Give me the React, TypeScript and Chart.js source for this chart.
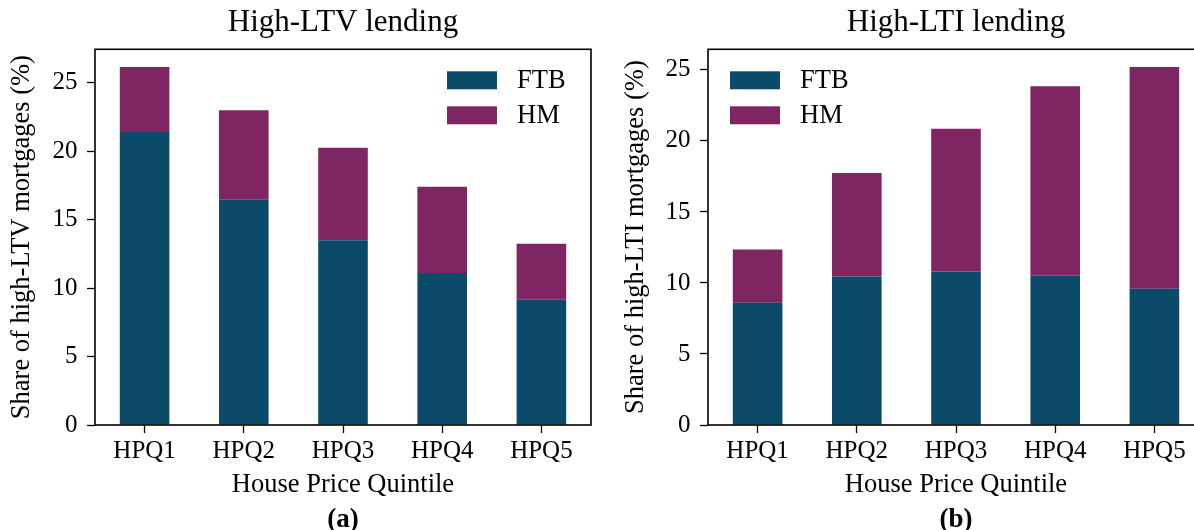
import React, { useEffect, useRef } from 'react';
import { Chart, registerables } from 'chart.js';

Chart.register(...registerables);

// ---- data ----
const categories = ['HPQ1', 'HPQ2', 'HPQ3', 'HPQ4', 'HPQ5'];
const seriesLabels = ['FTB', 'HM'];
const ltvFTB = [21.4, 16.45, 13.5, 11.1, 9.15];
const ltvHM = [4.75, 6.55, 6.75, 6.3, 4.1];
const ltiFTB = [8.6, 10.45, 10.8, 10.5, 9.6];
const ltiHM = [3.75, 7.3, 10.05, 13.35, 15.6];
const yTickValues = [0, 5, 10, 15, 20, 25];
const ltvYMax = 27.45;
const ltiYMax = 26.45;

const COLORS = ['#0B4A68', '#7F2562'];
const FONT = '"Liberation Serif", "Times New Roman", serif';

const frameLegendPlugin = {
  id: 'frameLegend',
  afterDraw(chart: any, _args: any, opts: any) {
    const { ctx, chartArea } = chart;
    const { left, right, top, bottom } = chartArea;
    ctx.save();
    // frame
    ctx.strokeStyle = '#000';
    ctx.lineWidth = 1.6;
    ctx.strokeRect(left, top, right - left, bottom - top);
    // legend
    const boxW = 50, boxH = 18, rowGap = 35, textGap = 70;
    const x0 = opts.side === 'right' ? right - opts.offsetX : left + opts.offsetX;
    const y0 = top + opts.offsetY;
    ctx.font = `26.5px ${FONT}`;
    ctx.textBaseline = 'middle';
    ctx.textAlign = 'left';
    chart.data.datasets.forEach((ds: any, i: number) => {
      const y = y0 + i * rowGap;
      ctx.fillStyle = ds.backgroundColor;
      ctx.fillRect(x0, y, boxW, boxH);
      ctx.fillStyle = '#000';
      ctx.fillText(ds.label, x0 + textGap, y + boxH / 2 + 1);
    });
    ctx.restore();
  },
};

function makeConfig(p: {
  title: string; sub: string; yLabel: string; ftb: number[]; hm: number[]; yMax: number;
  yWidth: number; yTitlePad: number; padRight: number; legendSide: string; legendX: number;
}) {
  return {
    type: 'bar' as const,
    data: {
      labels: categories,
      datasets: [
        { label: seriesLabels[0], data: p.ftb, backgroundColor: COLORS[0], barPercentage: 0.5, categoryPercentage: 1.0 },
        { label: seriesLabels[1], data: p.hm, backgroundColor: COLORS[1], barPercentage: 0.5, categoryPercentage: 1.0 },
      ],
    },
    plugins: [frameLegendPlugin],
    options: {
      animation: false,
      responsive: false,
      maintainAspectRatio: false,
      devicePixelRatio: 1,
      layout: { padding: { left: 0, right: p.padRight, top: 0, bottom: 0 } },
      plugins: {
        legend: { display: false },
        tooltip: { enabled: false },
        title: {
          display: true, text: p.title, fullSize: false, color: '#000',
          font: { family: FONT, size: 31, weight: 'normal', lineHeight: 1.2 },
          padding: { top: 4.5, bottom: 7.6 },
        },
        subtitle: {
          display: true, text: p.sub, position: 'bottom', fullSize: false, color: '#000',
          font: { family: FONT, size: 27, weight: 'bold', lineHeight: 1.2 },
          padding: { top: 0, bottom: 3.8 },
        },
        frameLegend: { side: p.legendSide, offsetX: p.legendX, offsetY: 22 },
      },
      scales: {
        x: {
          stacked: true,
          offset: true,
          border: { display: false },
          grid: { display: true, drawOnChartArea: false, drawTicks: true, tickLength: 8, tickWidth: 1.3, tickColor: '#000', offset: false },
          ticks: { color: '#000', font: { family: FONT, size: 25, lineHeight: 1.2 }, padding: 3.5, maxRotation: 0 },
          title: {
            display: true, text: 'House Price Quintile', color: '#000',
            font: { family: FONT, size: 26.5, lineHeight: 1.2 }, padding: { top: 2, bottom: 2.9 },
          },
          afterFit(scale: any) { scale.height = 78.8; },
        },
        y: {
          stacked: true,
          min: 0,
          max: p.yMax,
          border: { display: false },
          grid: { display: true, drawOnChartArea: false, drawTicks: true, tickLength: 8, tickWidth: 1.3, tickColor: '#000' },
          ticks: {
            color: '#000', font: { family: FONT, size: 25, lineHeight: 1.2 }, padding: 9.5,
            includeBounds: false, stepSize: 5,
          },
          afterBuildTicks(scale: any) { scale.ticks = yTickValues.map((v) => ({ value: v })); },
          title: {
            display: true, text: p.yLabel, color: '#000',
            font: { family: FONT, size: 26.5, lineHeight: 1.2 }, padding: { top: p.yTitlePad, bottom: 0 },
          },
          afterFit(scale: any) { scale.width = p.yWidth; },
        },
      },
    },
  };
}

function BarPanel(props: { cfg: any; left: number; width: number }) {
  const ref = useRef<HTMLCanvasElement | null>(null);
  useEffect(() => {
    if (!ref.current) return;
    const chart = new Chart(ref.current, props.cfg);
    return () => chart.destroy();
  }, []);
  return (
    <canvas
      ref={ref}
      width={props.width}
      height={540}
      style={{ position: 'absolute', left: props.left, top: 0, width: props.width, height: 540 }}
    />
  );
}

export default function App() {
  const left = makeConfig({
    title: 'High-LTV lending', sub: '(a)', yLabel: 'Share of high-LTV mortgages (%)',
    ftb: ltvFTB, hm: ltvHM, yMax: ltvYMax, yWidth: 95, yTitlePad: 6.1, padRight: 9,
    legendSide: 'right', legendX: 144,
  });
  const right = makeConfig({
    title: 'High-LTI lending', sub: '(b)', yLabel: 'Share of high-LTI mortgages (%)',
    ftb: ltiFTB, hm: ltiHM, yMax: ltiYMax, yWidth: 108, yTitlePad: 20.1, padRight: 6,
    legendSide: 'left', legendX: 22,
  });
  return (
    <div style={{ position: 'absolute', left: 0, top: 0, width: 1194, height: 530, overflow: 'hidden', background: '#fff' }}>
      <BarPanel cfg={left} left={0} width={600} />
      <BarPanel cfg={right} left={600} width={610} />
    </div>
  );
}
